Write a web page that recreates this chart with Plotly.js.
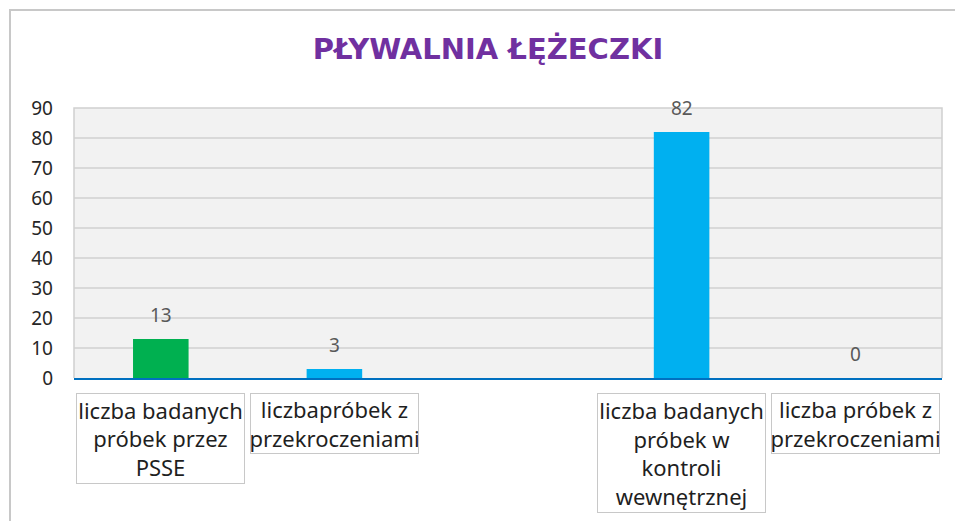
<!DOCTYPE html>
<html>
<head>
<meta charset="utf-8">
<script src="https://cdn.plot.ly/plotly-3.0.1.min.js"></script>
<style>
  html, body { margin: 0; padding: 0; background: #ffffff; }
  #wrap { position: relative; width: 955px; height: 521px; }
  #chart { position: absolute; left: 0; top: 0; width: 955px; height: 521px; }
  #frame { position: absolute; left: 9px; top: 9px; width: 946px; height: 512px;
           border-top: 2px solid #c8c8c8; border-left: 2px solid #c8c8c8;
           pointer-events: none; box-sizing: border-box; }
</style>
</head>
<body>
<div id="wrap">
  <div id="chart"></div>
  <div id="frame"></div>
</div>
<script>
// ---- data ----
const chartTitle = "PŁYWALNIA ŁĘŻECZKI";
const categories = [
  "liczba badanych<br>próbek przez<br>PSSE",
  "liczbapróbek z<br>przekroczeniami",
  " ",
  "liczba badanych<br>próbek w<br>kontroli<br>wewnętrznej",
  "liczba próbek z<br>przekroczeniami"
];
const values = [13, 3, null, 82, 0];
const barColors = ["#00B050", "#00B0F0", "#00B0F0", "#00B0F0", "#00B0F0"];
const yTicks = [0, 10, 20, 30, 40, 50, 60, 70, 80, 90];

// ---- annotations built from data ----
const annotations = [];
categories.forEach((c, i) => {
  if (c.trim() === "") return;
  const lines = c.split("<br>").length;
  annotations.push({
    xref: "x", yref: "paper", x: c, y: 0,
    xanchor: "center", yanchor: "top", yshift: -15,
    text: c, showarrow: false, align: "center", valign: "middle",
    width: 167, height: lines * 29.2 + 1,
    bordercolor: "#c8c8c8", borderwidth: 1, borderpad: 0,
    bgcolor: "#ffffff",
    font: { family: "Noto Sans, Liberation Sans, sans-serif", size: 22, color: "#1f1f1f" }
  });
});
values.forEach((v, i) => {
  if (v === null) return;
  annotations.push({
    xref: "x", yref: "y", x: categories[i], y: v,
    xanchor: "center", yanchor: "bottom", yshift: 9,
    text: String(v), showarrow: false,
    font: { family: "Noto Sans, Liberation Sans, sans-serif", size: 19, color: "#595959" }
  });
});

const trace = {
  type: "bar",
  x: categories,
  y: values,
  marker: { color: barColors },
  hoverinfo: "x+y"
};

const layout = {
  width: 955, height: 521,
  margin: { l: 74, r: 13, t: 108, b: 143, pad: 0 },
  paper_bgcolor: "#ffffff",
  plot_bgcolor: "#f2f2f2",
  showlegend: false,
  bargap: 0.68,
  title: {
    text: "<b>" + chartTitle + "</b>",
    x: 0.511, xref: "container", xanchor: "center",
    y: 0.907, yref: "container", yanchor: "middle",
    font: { family: "DejaVu Sans, Liberation Sans, sans-serif", size: 29, color: "#7030A0" }
  },
  xaxis: {
    type: "category",
    categoryorder: "array", categoryarray: categories,
    showticklabels: false, showgrid: false, zeroline: false,
    showline: true, linecolor: "#0070C0", linewidth: 2,
    ticks: "", fixedrange: true
  },
  yaxis: {
    range: [0, 90],
    tickvals: yTicks,
    ticktext: yTicks.map(String),
    showgrid: true, gridcolor: "#d9d9d9", gridwidth: 1.5,
    zeroline: false, showline: false, ticks: "",
    ticklabelstandoff: 20,
    tickfont: { family: "Noto Sans, Liberation Sans, sans-serif", size: 19, color: "#262626" },
    fixedrange: true
  },
  shapes: [{
    type: "path", xref: "paper", yref: "paper",
    path: "M0,0 L0,1 L1,1 L1,0",
    line: { color: "#d0d0d0", width: 1.5 }, layer: "above"
  }],
  annotations: annotations
};

Plotly.newPlot("chart", [trace], layout, { displayModeBar: false, staticPlot: true });
</script>
</body>
</html>
